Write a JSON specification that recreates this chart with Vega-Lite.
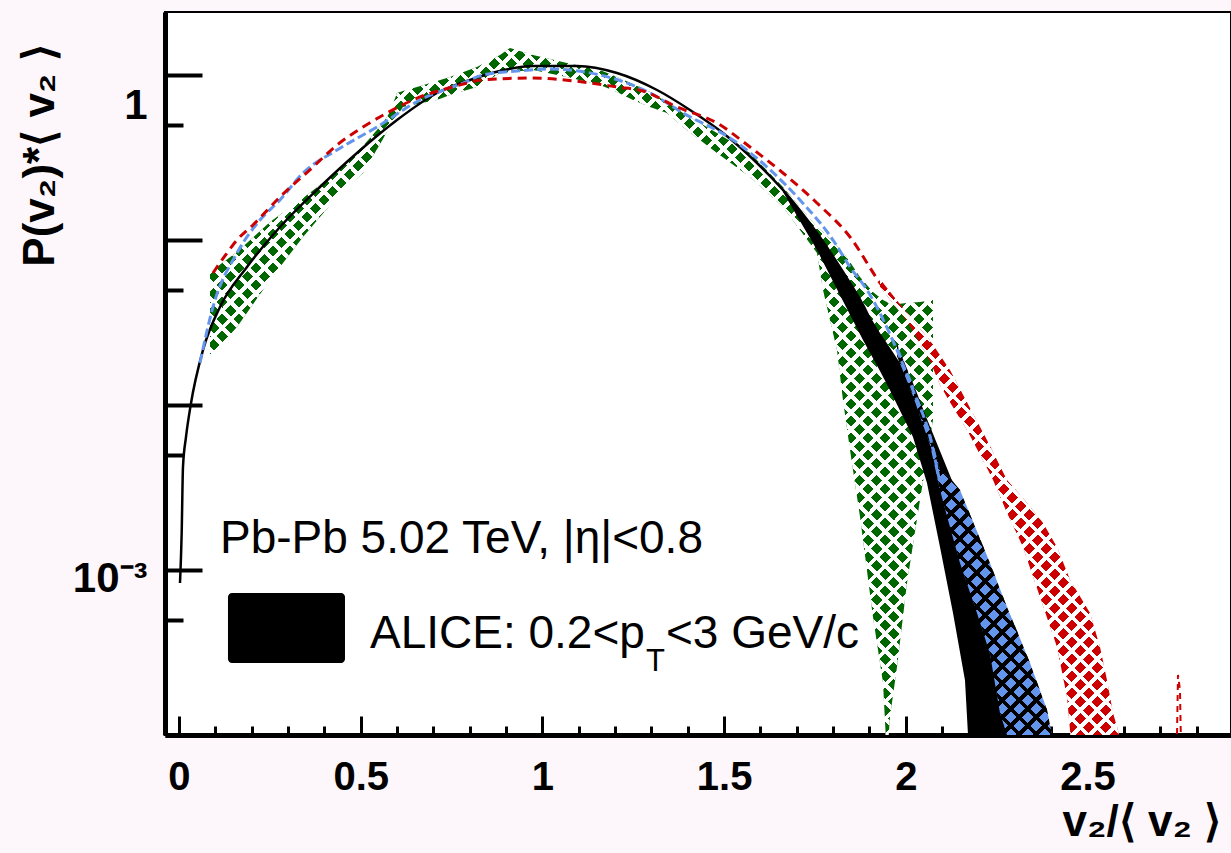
{
  "$schema": "https://vega.github.io/schema/vega-lite/v6.json",
  "width": 1066,
  "height": 723,
  "autosize": {"type": "none"},
  "padding": {"left": 165, "top": 12, "right": 0, "bottom": 118},
  "background": "#fdf7fc",
  "view": {"fill": "white", "stroke": "black", "strokeWidth": 2},
  "config": {
    "font": "Liberation Sans",
    "axis": {"grid": false, "zindex": 1, "labelColor": "black", "domainColor": "black", "tickColor": "black", "titleColor": "black", "labelOverlap": false, "labelFlush": false, "labelBound": false}
  },
  "datasets": {
    "black_line": [
      {"x":0.0028,"y":0.000834},{"x":0.0074,"y":0.00168},{"x":0.011,"y":0.00421},{"x":0.0193,"y":0.0064},{"x":0.0322,"y":0.01},{"x":0.066,"y":0.0215},{"x":0.1128,"y":0.0393},{"x":0.1871,"y":0.0686},{"x":0.2779,"y":0.1199},{"x":0.388,"y":0.2096},{"x":0.4898,"y":0.3367},{"x":0.5999,"y":0.5337},{"x":0.71,"y":0.778},{"x":0.8008,"y":0.933},{"x":0.8833,"y":1.057},{"x":0.9741,"y":1.134},{"x":1.0952,"y":1.134},{"x":1.2053,"y":1.028},{"x":1.3154,"y":0.811},{"x":1.4061,"y":0.614},{"x":1.497,"y":0.4452},{"x":1.5905,"y":0.2929},{"x":1.6621,"y":0.2009},{"x":1.7556,"y":0.1103},{"x":1.8272,"y":0.064},{"x":1.8822,"y":0.0404},{"x":1.9565,"y":0.0175},{"x":2.0198,"y":0.00933}
    ],
    "black_band": [
      {"x":1.6621,"lo":0.1954,"hi":0.2066},{"x":1.7556,"lo":0.087,"hi":0.1118},{"x":1.8272,"lo":0.0427,"hi":0.064},{"x":1.8822,"lo":0.0248,"hi":0.0404},{"x":1.929,"lo":0.0161,"hi":0.0273},{"x":1.9565,"lo":0.0123,"hi":0.0222},{"x":2.0198,"lo":0.0064,"hi":0.0136},{"x":2.0583,"lo":0.00337,"hi":0.00823},{"x":2.0941,"lo":0.001378,"hi":0.00526},{"x":2.1299,"lo":0.000549,"hi":0.00337},{"x":2.1629,"lo":0.000215,"hi":0.00234},{"x":2.1712,"lo":0.0001,"hi":0.00215},{"x":2.1904,"lo":0.0000305,"hi":0.00175},{"x":2.2124,"lo":0.00001,"hi":0.001378},{"x":2.2785,"lo":0.00001,"hi":0.000549},{"x":2.3335,"lo":0.00001,"hi":0.000215},{"x":2.3748,"lo":0.00001,"hi":0.0001},{"x":2.3968,"lo":0.00001,"hi":0.0000614}
    ],
    "green_band": [
      {"x":0.0853,"lo":0.0195,"hi":0.064},{"x":0.1596,"lo":0.0297,"hi":0.0846},{"x":0.2504,"lo":0.0572,"hi":0.1285},{"x":0.3412,"lo":0.1043,"hi":0.1797},{"x":0.4348,"lo":0.1822,"hi":0.2583},{"x":0.5063,"lo":0.2547,"hi":0.3712},{"x":0.5614,"lo":0.4094,"hi":0.5118},{"x":0.5806,"lo":0.4908,"hi":0.597},{"x":0.5999,"lo":0.5644,"hi":0.778},{"x":0.6164,"lo":0.64,"hi":0.7998},{"x":0.6549,"lo":0.6671,"hi":0.846},{"x":0.71,"lo":0.7055,"hi":0.9198},{"x":0.7457,"lo":0.7565,"hi":0.9725},{"x":0.82,"lo":0.846,"hi":1.118},{"x":0.8833,"lo":1.028,"hi":1.322},{"x":0.9108,"lo":1.043,"hi":1.458},{"x":0.9741,"lo":1.072,"hi":1.322},{"x":1.0677,"lo":0.9725,"hi":1.182},{"x":1.1585,"lo":0.8697,"hi":1.072},{"x":1.2053,"lo":0.789,"hi":0.9725},{"x":1.2493,"lo":0.7055,"hi":0.8819},{"x":1.2961,"lo":0.64,"hi":0.789},{"x":1.3429,"lo":0.5886,"hi":0.6863},{"x":1.3869,"lo":0.484,"hi":0.5886},{"x":1.4804,"lo":0.3367,"hi":0.4452},{"x":1.5713,"lo":0.2408,"hi":0.3367},{"x":1.6621,"lo":0.1585,"hi":0.2096},{"x":1.7556,"lo":0.0834,"hi":0.1199},{"x":1.7722,"lo":0.0498,"hi":0.1118},{"x":1.8107,"lo":0.0215,"hi":0.092},{"x":1.8272,"lo":0.0107,"hi":0.0846},{"x":1.8465,"lo":0.00534,"hi":0.0736},{"x":1.874,"lo":0.0021,"hi":0.0597},{"x":1.9097,"lo":0.000519,"hi":0.0484},{"x":1.9373,"lo":0.000207,"hi":0.0433},{"x":1.9483,"lo":0.0000705,"hi":0.0421},{"x":1.9565,"lo":0.000129,"hi":0.0404},{"x":1.9758,"lo":0.000258,"hi":0.0409},{"x":2.0033,"lo":0.000834,"hi":0.0415},{"x":2.0391,"lo":0.00266,"hi":0.0421},{"x":2.0748,"lo":0.00811,"hi":0.0433}
    ],
    "blue_line": [
      {"x":0.0578,"y":0.018},{"x":0.0936,"y":0.0393},{"x":0.1596,"y":0.0834},{"x":0.2229,"y":0.1322},{"x":0.2779,"y":0.1748},{"x":0.3412,"y":0.2547},{"x":0.4348,"y":0.3511},{"x":0.5449,"y":0.484},{"x":0.6632,"y":0.7055},{"x":0.7815,"y":0.894},{"x":0.8365,"y":1.0},{"x":0.9301,"y":1.057},{"x":1.0209,"y":1.087},{"x":1.1585,"y":1.0},{"x":1.2961,"y":0.778},{"x":1.3869,"y":0.5886},{"x":1.5245,"y":0.4037},{"x":1.6181,"y":0.2769},{"x":1.7089,"y":0.1748},{"x":1.7997,"y":0.1},{"x":1.8465,"y":0.0686},{"x":1.8932,"y":0.0498},{"x":1.9758,"y":0.0215},{"x":2.0198,"y":0.0123},{"x":2.0666,"y":0.0064},{"x":2.0941,"y":0.00337}
    ],
    "blue_band": [
      {"x":1.9758,"lo":0.0198,"hi":0.0234},{"x":2.0198,"lo":0.01134,"hi":0.01341},{"x":2.0666,"lo":0.00572,"hi":0.00705},{"x":2.0941,"lo":0.00305,"hi":0.00404},{"x":2.1216,"lo":0.00182,"hi":0.00361},{"x":2.1491,"lo":0.001103,"hi":0.00305},{"x":2.1959,"lo":0.000549,"hi":0.00172},{"x":2.2317,"lo":0.00031,"hi":0.001103},{"x":2.2592,"lo":0.000136,"hi":0.000767},{"x":2.2785,"lo":0.0001,"hi":0.000597},{"x":2.3005,"lo":0.00005,"hi":0.000458},{"x":2.3418,"lo":0.00005,"hi":0.000273},{"x":2.3886,"lo":0.00005,"hi":0.000142},{"x":2.4023,"lo":0.00005,"hi":0.0001},{"x":2.4243,"lo":0.00005,"hi":0.0000534}
    ],
    "red_line": [
      {"x":0.0936,"y":0.0631},{"x":0.1321,"y":0.0834},{"x":0.1596,"y":0.1},{"x":0.2036,"y":0.1233},{"x":0.2779,"y":0.1822},{"x":0.3687,"y":0.2769},{"x":0.4348,"y":0.3765},{"x":0.5063,"y":0.484},{"x":0.5724,"y":0.5886},{"x":0.6632,"y":0.736},{"x":0.754,"y":0.846},{"x":0.8365,"y":0.933},{"x":0.9741,"y":0.959},{"x":1.1117,"y":0.907},{"x":1.2053,"y":0.846},{"x":1.2768,"y":0.7998},{"x":1.3704,"y":0.64},{"x":1.4804,"y":0.5118},{"x":1.5713,"y":0.3662},{"x":1.6621,"y":0.2547},{"x":1.7556,"y":0.1676},{"x":1.8465,"y":0.1043},{"x":1.929,"y":0.0549},{"x":2.0033,"y":0.0341},{"x":2.0666,"y":0.0215},{"x":2.1134,"y":0.0136},{"x":2.1684,"y":0.00846},{"x":2.2234,"y":0.00534},{"x":2.2785,"y":0.00337}
    ],
    "red_band": [
      {"x":1.929,"lo":0.0519,"hi":0.058},{"x":2.0033,"lo":0.0323,"hi":0.0361},{"x":2.0666,"lo":0.0185,"hi":0.0246},{"x":2.0941,"lo":0.0132,"hi":0.0201},{"x":2.1216,"lo":0.0104,"hi":0.0163},{"x":2.1684,"lo":0.00705,"hi":0.0104},{"x":2.2234,"lo":0.00415,"hi":0.00614},{"x":2.24,"lo":0.00351,"hi":0.00519},{"x":2.2785,"lo":0.00222,"hi":0.00351},{"x":2.3225,"lo":0.001378,"hi":0.00273},{"x":2.3335,"lo":0.001166,"hi":0.00255},{"x":2.3693,"lo":0.000686,"hi":0.00204},{"x":2.3776,"lo":0.000605,"hi":0.00193},{"x":2.4161,"lo":0.000341,"hi":0.001378},{"x":2.4436,"lo":0.00017,"hi":0.000973},{"x":2.4519,"lo":0.000107,"hi":0.00087},{"x":2.4656,"lo":0.00005,"hi":0.000778},{"x":2.5069,"lo":0.00005,"hi":0.000549},{"x":2.5344,"lo":0.00005,"hi":0.000341},{"x":2.5537,"lo":0.00005,"hi":0.000215},{"x":2.5702,"lo":0.00005,"hi":0.000136},{"x":2.5839,"lo":0.00005,"hi":0.000107},{"x":2.6032,"lo":0.00005,"hi":0.0000614}
    ],
    "red_spike": [
      {"x":2.7435,"y":0.0000404},{"x":2.749,"y":0.000231},{"x":2.7545,"y":0.000187},{"x":2.76,"y":0.0000404}
    ],
    "legend_box": [
      {"x":0.1348,"x2":0.4568,"y":0.000726,"y2":0.000273}
    ],
    "texts": [
      {"x":0.1128,"y":0.001268,"t":"Pb-Pb 5.02 TeV, |η|<0.8"},
      {"x":0.5256,"y":0.000337,"t":"ALICE: 0.2<p"},
      {"x":1.3401,"y":0.000337,"t":"<3 GeV/c"}
    ],
    "subs": [
      {"x":1.2851,"y":0.000245,"t":"T"}
    ]
  },
  "resolve": {"axis": {"x": "independent", "y": "independent"}},
  "layer": [
    {
      "data": {"name": "green_band"},
      "mark": {"type": "area", "clip": true, "fill": {"gradient": "linear", "x1": 0, "y1": 0, "x2": 1.1937, "y2": 1.1755, "stops": [
        {"offset":0,"color":"#fff"},{"offset":0.0033,"color":"#fff"},{"offset":0.0033,"color":"#060"},{"offset":0.01,"color":"#060"},
        {"offset":0.01,"color":"#fff"},{"offset":0.0133,"color":"#fff"},{"offset":0.0133,"color":"#060"},{"offset":0.02,"color":"#060"},
        {"offset":0.02,"color":"#fff"},{"offset":0.0233,"color":"#fff"},{"offset":0.0233,"color":"#060"},{"offset":0.03,"color":"#060"},
        {"offset":0.03,"color":"#fff"},{"offset":0.0333,"color":"#fff"},{"offset":0.0333,"color":"#060"},{"offset":0.04,"color":"#060"},
        {"offset":0.04,"color":"#fff"},{"offset":0.0433,"color":"#fff"},{"offset":0.0433,"color":"#060"},{"offset":0.05,"color":"#060"},
        {"offset":0.05,"color":"#fff"},{"offset":0.0533,"color":"#fff"},{"offset":0.0533,"color":"#060"},{"offset":0.06,"color":"#060"},
        {"offset":0.06,"color":"#fff"},{"offset":0.0633,"color":"#fff"},{"offset":0.0633,"color":"#060"},{"offset":0.07,"color":"#060"},
        {"offset":0.07,"color":"#fff"},{"offset":0.0733,"color":"#fff"},{"offset":0.0733,"color":"#060"},{"offset":0.08,"color":"#060"},
        {"offset":0.08,"color":"#fff"},{"offset":0.0833,"color":"#fff"},{"offset":0.0833,"color":"#060"},{"offset":0.09,"color":"#060"},
        {"offset":0.09,"color":"#fff"},{"offset":0.0933,"color":"#fff"},{"offset":0.0933,"color":"#060"},{"offset":0.1,"color":"#060"},
        {"offset":0.1,"color":"#fff"},{"offset":0.1033,"color":"#fff"},{"offset":0.1033,"color":"#060"},{"offset":0.11,"color":"#060"},
        {"offset":0.11,"color":"#fff"},{"offset":0.1133,"color":"#fff"},{"offset":0.1133,"color":"#060"},{"offset":0.12,"color":"#060"},
        {"offset":0.12,"color":"#fff"},{"offset":0.1233,"color":"#fff"},{"offset":0.1233,"color":"#060"},{"offset":0.13,"color":"#060"},
        {"offset":0.13,"color":"#fff"},{"offset":0.1333,"color":"#fff"},{"offset":0.1333,"color":"#060"},{"offset":0.14,"color":"#060"},
        {"offset":0.14,"color":"#fff"},{"offset":0.1433,"color":"#fff"},{"offset":0.1433,"color":"#060"},{"offset":0.15,"color":"#060"},
        {"offset":0.15,"color":"#fff"},{"offset":0.1533,"color":"#fff"},{"offset":0.1533,"color":"#060"},{"offset":0.16,"color":"#060"},
        {"offset":0.16,"color":"#fff"},{"offset":0.1633,"color":"#fff"},{"offset":0.1633,"color":"#060"},{"offset":0.17,"color":"#060"},
        {"offset":0.17,"color":"#fff"},{"offset":0.1733,"color":"#fff"},{"offset":0.1733,"color":"#060"},{"offset":0.18,"color":"#060"},
        {"offset":0.18,"color":"#fff"},{"offset":0.1833,"color":"#fff"},{"offset":0.1833,"color":"#060"},{"offset":0.19,"color":"#060"},
        {"offset":0.19,"color":"#fff"},{"offset":0.1933,"color":"#fff"},{"offset":0.1933,"color":"#060"},{"offset":0.2,"color":"#060"},
        {"offset":0.2,"color":"#fff"},{"offset":0.2033,"color":"#fff"},{"offset":0.2033,"color":"#060"},{"offset":0.21,"color":"#060"},
        {"offset":0.21,"color":"#fff"},{"offset":0.2133,"color":"#fff"},{"offset":0.2133,"color":"#060"},{"offset":0.22,"color":"#060"},
        {"offset":0.22,"color":"#fff"},{"offset":0.2233,"color":"#fff"},{"offset":0.2233,"color":"#060"},{"offset":0.23,"color":"#060"},
        {"offset":0.23,"color":"#fff"},{"offset":0.2333,"color":"#fff"},{"offset":0.2333,"color":"#060"},{"offset":0.24,"color":"#060"},
        {"offset":0.24,"color":"#fff"},{"offset":0.2433,"color":"#fff"},{"offset":0.2433,"color":"#060"},{"offset":0.25,"color":"#060"},
        {"offset":0.25,"color":"#fff"},{"offset":0.2533,"color":"#fff"},{"offset":0.2533,"color":"#060"},{"offset":0.26,"color":"#060"},
        {"offset":0.26,"color":"#fff"},{"offset":0.2633,"color":"#fff"},{"offset":0.2633,"color":"#060"},{"offset":0.27,"color":"#060"},
        {"offset":0.27,"color":"#fff"},{"offset":0.2733,"color":"#fff"},{"offset":0.2733,"color":"#060"},{"offset":0.28,"color":"#060"},
        {"offset":0.28,"color":"#fff"},{"offset":0.2833,"color":"#fff"},{"offset":0.2833,"color":"#060"},{"offset":0.29,"color":"#060"},
        {"offset":0.29,"color":"#fff"},{"offset":0.2933,"color":"#fff"},{"offset":0.2933,"color":"#060"},{"offset":0.3,"color":"#060"},
        {"offset":0.3,"color":"#fff"},{"offset":0.3033,"color":"#fff"},{"offset":0.3033,"color":"#060"},{"offset":0.31,"color":"#060"},
        {"offset":0.31,"color":"#fff"},{"offset":0.3133,"color":"#fff"},{"offset":0.3133,"color":"#060"},{"offset":0.32,"color":"#060"},
        {"offset":0.32,"color":"#fff"},{"offset":0.3233,"color":"#fff"},{"offset":0.3233,"color":"#060"},{"offset":0.33,"color":"#060"},
        {"offset":0.33,"color":"#fff"},{"offset":0.3333,"color":"#fff"},{"offset":0.3333,"color":"#060"},{"offset":0.34,"color":"#060"},
        {"offset":0.34,"color":"#fff"},{"offset":0.3433,"color":"#fff"},{"offset":0.3433,"color":"#060"},{"offset":0.35,"color":"#060"},
        {"offset":0.35,"color":"#fff"},{"offset":0.3533,"color":"#fff"},{"offset":0.3533,"color":"#060"},{"offset":0.36,"color":"#060"},
        {"offset":0.36,"color":"#fff"},{"offset":0.3633,"color":"#fff"},{"offset":0.3633,"color":"#060"},{"offset":0.37,"color":"#060"},
        {"offset":0.37,"color":"#fff"},{"offset":0.3733,"color":"#fff"},{"offset":0.3733,"color":"#060"},{"offset":0.38,"color":"#060"},
        {"offset":0.38,"color":"#fff"},{"offset":0.3833,"color":"#fff"},{"offset":0.3833,"color":"#060"},{"offset":0.39,"color":"#060"},
        {"offset":0.39,"color":"#fff"},{"offset":0.3933,"color":"#fff"},{"offset":0.3933,"color":"#060"},{"offset":0.4,"color":"#060"},
        {"offset":0.4,"color":"#fff"},{"offset":0.4033,"color":"#fff"},{"offset":0.4033,"color":"#060"},{"offset":0.41,"color":"#060"},
        {"offset":0.41,"color":"#fff"},{"offset":0.4133,"color":"#fff"},{"offset":0.4133,"color":"#060"},{"offset":0.42,"color":"#060"},
        {"offset":0.42,"color":"#fff"},{"offset":0.4233,"color":"#fff"},{"offset":0.4233,"color":"#060"},{"offset":0.43,"color":"#060"},
        {"offset":0.43,"color":"#fff"},{"offset":0.4333,"color":"#fff"},{"offset":0.4333,"color":"#060"},{"offset":0.44,"color":"#060"},
        {"offset":0.44,"color":"#fff"},{"offset":0.4433,"color":"#fff"},{"offset":0.4433,"color":"#060"},{"offset":0.45,"color":"#060"},
        {"offset":0.45,"color":"#fff"},{"offset":0.4533,"color":"#fff"},{"offset":0.4533,"color":"#060"},{"offset":0.46,"color":"#060"},
        {"offset":0.46,"color":"#fff"},{"offset":0.4633,"color":"#fff"},{"offset":0.4633,"color":"#060"},{"offset":0.47,"color":"#060"},
        {"offset":0.47,"color":"#fff"},{"offset":0.4733,"color":"#fff"},{"offset":0.4733,"color":"#060"},{"offset":0.48,"color":"#060"},
        {"offset":0.48,"color":"#fff"},{"offset":0.4833,"color":"#fff"},{"offset":0.4833,"color":"#060"},{"offset":0.49,"color":"#060"},
        {"offset":0.49,"color":"#fff"},{"offset":0.4933,"color":"#fff"},{"offset":0.4933,"color":"#060"},{"offset":0.5,"color":"#060"},
        {"offset":0.5,"color":"#fff"},{"offset":0.5033,"color":"#fff"},{"offset":0.5033,"color":"#060"},{"offset":0.51,"color":"#060"},
        {"offset":0.51,"color":"#fff"},{"offset":0.5133,"color":"#fff"},{"offset":0.5133,"color":"#060"},{"offset":0.52,"color":"#060"},
        {"offset":0.52,"color":"#fff"},{"offset":0.5233,"color":"#fff"},{"offset":0.5233,"color":"#060"},{"offset":0.53,"color":"#060"},
        {"offset":0.53,"color":"#fff"},{"offset":0.5333,"color":"#fff"},{"offset":0.5333,"color":"#060"},{"offset":0.54,"color":"#060"},
        {"offset":0.54,"color":"#fff"},{"offset":0.5433,"color":"#fff"},{"offset":0.5433,"color":"#060"},{"offset":0.55,"color":"#060"},
        {"offset":0.55,"color":"#fff"},{"offset":0.5533,"color":"#fff"},{"offset":0.5533,"color":"#060"},{"offset":0.56,"color":"#060"},
        {"offset":0.56,"color":"#fff"},{"offset":0.5633,"color":"#fff"},{"offset":0.5633,"color":"#060"},{"offset":0.57,"color":"#060"},
        {"offset":0.57,"color":"#fff"},{"offset":0.5733,"color":"#fff"},{"offset":0.5733,"color":"#060"},{"offset":0.58,"color":"#060"},
        {"offset":0.58,"color":"#fff"},{"offset":0.5833,"color":"#fff"},{"offset":0.5833,"color":"#060"},{"offset":0.59,"color":"#060"},
        {"offset":0.59,"color":"#fff"},{"offset":0.5933,"color":"#fff"},{"offset":0.5933,"color":"#060"},{"offset":0.6,"color":"#060"},
        {"offset":0.6,"color":"#fff"},{"offset":0.6033,"color":"#fff"},{"offset":0.6033,"color":"#060"},{"offset":0.61,"color":"#060"},
        {"offset":0.61,"color":"#fff"},{"offset":0.6133,"color":"#fff"},{"offset":0.6133,"color":"#060"},{"offset":0.62,"color":"#060"},
        {"offset":0.62,"color":"#fff"},{"offset":0.6233,"color":"#fff"},{"offset":0.6233,"color":"#060"},{"offset":0.63,"color":"#060"},
        {"offset":0.63,"color":"#fff"},{"offset":0.6333,"color":"#fff"},{"offset":0.6333,"color":"#060"},{"offset":0.64,"color":"#060"},
        {"offset":0.64,"color":"#fff"},{"offset":0.6433,"color":"#fff"},{"offset":0.6433,"color":"#060"},{"offset":0.65,"color":"#060"},
        {"offset":0.65,"color":"#fff"},{"offset":0.6533,"color":"#fff"},{"offset":0.6533,"color":"#060"},{"offset":0.66,"color":"#060"},
        {"offset":0.66,"color":"#fff"},{"offset":0.6633,"color":"#fff"},{"offset":0.6633,"color":"#060"},{"offset":0.67,"color":"#060"},
        {"offset":0.67,"color":"#fff"},{"offset":0.6733,"color":"#fff"},{"offset":0.6733,"color":"#060"},{"offset":0.68,"color":"#060"},
        {"offset":0.68,"color":"#fff"},{"offset":0.6833,"color":"#fff"},{"offset":0.6833,"color":"#060"},{"offset":0.69,"color":"#060"},
        {"offset":0.69,"color":"#fff"},{"offset":0.6933,"color":"#fff"},{"offset":0.6933,"color":"#060"},{"offset":0.7,"color":"#060"},
        {"offset":0.7,"color":"#fff"},{"offset":0.7033,"color":"#fff"},{"offset":0.7033,"color":"#060"},{"offset":0.71,"color":"#060"},
        {"offset":0.71,"color":"#fff"},{"offset":0.7133,"color":"#fff"},{"offset":0.7133,"color":"#060"},{"offset":0.72,"color":"#060"},
        {"offset":0.72,"color":"#fff"},{"offset":0.7233,"color":"#fff"},{"offset":0.7233,"color":"#060"},{"offset":0.73,"color":"#060"},
        {"offset":0.73,"color":"#fff"},{"offset":0.7333,"color":"#fff"},{"offset":0.7333,"color":"#060"},{"offset":0.74,"color":"#060"},
        {"offset":0.74,"color":"#fff"},{"offset":0.7433,"color":"#fff"},{"offset":0.7433,"color":"#060"},{"offset":0.75,"color":"#060"},
        {"offset":0.75,"color":"#fff"},{"offset":0.7533,"color":"#fff"},{"offset":0.7533,"color":"#060"},{"offset":0.76,"color":"#060"},
        {"offset":0.76,"color":"#fff"},{"offset":0.7633,"color":"#fff"},{"offset":0.7633,"color":"#060"},{"offset":0.77,"color":"#060"},
        {"offset":0.77,"color":"#fff"},{"offset":0.7733,"color":"#fff"},{"offset":0.7733,"color":"#060"},{"offset":0.78,"color":"#060"},
        {"offset":0.78,"color":"#fff"},{"offset":0.7833,"color":"#fff"},{"offset":0.7833,"color":"#060"},{"offset":0.79,"color":"#060"},
        {"offset":0.79,"color":"#fff"},{"offset":0.7933,"color":"#fff"},{"offset":0.7933,"color":"#060"},{"offset":0.8,"color":"#060"},
        {"offset":0.8,"color":"#fff"},{"offset":0.8033,"color":"#fff"},{"offset":0.8033,"color":"#060"},{"offset":0.81,"color":"#060"},
        {"offset":0.81,"color":"#fff"},{"offset":0.8133,"color":"#fff"},{"offset":0.8133,"color":"#060"},{"offset":0.82,"color":"#060"},
        {"offset":0.82,"color":"#fff"},{"offset":0.8233,"color":"#fff"},{"offset":0.8233,"color":"#060"},{"offset":0.83,"color":"#060"},
        {"offset":0.83,"color":"#fff"},{"offset":0.8333,"color":"#fff"},{"offset":0.8333,"color":"#060"},{"offset":0.84,"color":"#060"},
        {"offset":0.84,"color":"#fff"},{"offset":0.8433,"color":"#fff"},{"offset":0.8433,"color":"#060"},{"offset":0.85,"color":"#060"},
        {"offset":0.85,"color":"#fff"},{"offset":0.8533,"color":"#fff"},{"offset":0.8533,"color":"#060"},{"offset":1,"color":"#060"}
      ]}},
      "encoding": {
        "x": {"field": "x", "type": "quantitative", "scale": {"domain": [-0.0385, 2.8949], "nice": false, "zero": false},
          "axis": {"orient": "bottom", "values": [0, 0.5, 1, 1.5, 2, 2.5], "format": "~g", "tickSize": -19, "tickWidth": 3, "domainWidth": 5,
            "labelFontSize": 40, "labelFontWeight": "bold", "labelPadding": 41, "labelBaseline": "top",
            "title": "v₂/⟨ v₂ ⟩", "titleFontSize": 44, "titleFontWeight": "bold", "titleAlign": "left", "titleBaseline": "alphabetic", "titleX": 897, "titleY": 100, "titleAnchor": null}},
        "y": {"field": "lo", "type": "quantitative", "scale": {"type": "log", "domain": [0.0001, 2.409], "nice": false},
          "axis": {"orient": "left", "values": [0.0001, 0.001, 0.01, 0.1, 1], "tickSize": -37, "tickWidth": 4, "domainWidth": 5,
            "labelExpr": "datum.value > 0.5 ? '1' : ''", "labelFontSize": 42, "labelFontWeight": "bold", "labelPadding": 55, "labelOffset": 30, "labelBaseline": "middle", "labelAlign": "right",
            "title": "P(v₂)*⟨ v₂ ⟩", "titleFontSize": 44, "titleFontWeight": "bold", "titleAngle": -90, "titleAlign": "center", "titleBaseline": "alphabetic", "titleX": -112, "titleY": 143, "titleAnchor": null}},
        "y2": {"field": "hi"}
      }
    },
    {
      "data": {"name": "green_band"},
      "mark": {"type": "area", "clip": true, "fill": {"gradient": "linear", "x1": 0, "y1": 1, "x2": 1.1937, "y2": -0.1755, "stops": [
        {"offset":0,"color":"#fff"},{"offset":0.0033,"color":"#fff"},{"offset":0.0033,"color":"transparent"},{"offset":0.01,"color":"transparent"},
        {"offset":0.01,"color":"#fff"},{"offset":0.0133,"color":"#fff"},{"offset":0.0133,"color":"transparent"},{"offset":0.02,"color":"transparent"},
        {"offset":0.02,"color":"#fff"},{"offset":0.0233,"color":"#fff"},{"offset":0.0233,"color":"transparent"},{"offset":0.03,"color":"transparent"},
        {"offset":0.03,"color":"#fff"},{"offset":0.0333,"color":"#fff"},{"offset":0.0333,"color":"transparent"},{"offset":0.04,"color":"transparent"},
        {"offset":0.04,"color":"#fff"},{"offset":0.0433,"color":"#fff"},{"offset":0.0433,"color":"transparent"},{"offset":0.05,"color":"transparent"},
        {"offset":0.05,"color":"#fff"},{"offset":0.0533,"color":"#fff"},{"offset":0.0533,"color":"transparent"},{"offset":0.06,"color":"transparent"},
        {"offset":0.06,"color":"#fff"},{"offset":0.0633,"color":"#fff"},{"offset":0.0633,"color":"transparent"},{"offset":0.07,"color":"transparent"},
        {"offset":0.07,"color":"#fff"},{"offset":0.0733,"color":"#fff"},{"offset":0.0733,"color":"transparent"},{"offset":0.08,"color":"transparent"},
        {"offset":0.08,"color":"#fff"},{"offset":0.0833,"color":"#fff"},{"offset":0.0833,"color":"transparent"},{"offset":0.09,"color":"transparent"},
        {"offset":0.09,"color":"#fff"},{"offset":0.0933,"color":"#fff"},{"offset":0.0933,"color":"transparent"},{"offset":0.1,"color":"transparent"},
        {"offset":0.1,"color":"#fff"},{"offset":0.1033,"color":"#fff"},{"offset":0.1033,"color":"transparent"},{"offset":0.11,"color":"transparent"},
        {"offset":0.11,"color":"#fff"},{"offset":0.1133,"color":"#fff"},{"offset":0.1133,"color":"transparent"},{"offset":0.12,"color":"transparent"},
        {"offset":0.12,"color":"#fff"},{"offset":0.1233,"color":"#fff"},{"offset":0.1233,"color":"transparent"},{"offset":0.13,"color":"transparent"},
        {"offset":0.13,"color":"#fff"},{"offset":0.1333,"color":"#fff"},{"offset":0.1333,"color":"transparent"},{"offset":0.14,"color":"transparent"},
        {"offset":0.14,"color":"#fff"},{"offset":0.1433,"color":"#fff"},{"offset":0.1433,"color":"transparent"},{"offset":0.15,"color":"transparent"},
        {"offset":0.15,"color":"#fff"},{"offset":0.1533,"color":"#fff"},{"offset":0.1533,"color":"transparent"},{"offset":0.16,"color":"transparent"},
        {"offset":0.16,"color":"#fff"},{"offset":0.1633,"color":"#fff"},{"offset":0.1633,"color":"transparent"},{"offset":0.17,"color":"transparent"},
        {"offset":0.17,"color":"#fff"},{"offset":0.1733,"color":"#fff"},{"offset":0.1733,"color":"transparent"},{"offset":0.18,"color":"transparent"},
        {"offset":0.18,"color":"#fff"},{"offset":0.1833,"color":"#fff"},{"offset":0.1833,"color":"transparent"},{"offset":0.19,"color":"transparent"},
        {"offset":0.19,"color":"#fff"},{"offset":0.1933,"color":"#fff"},{"offset":0.1933,"color":"transparent"},{"offset":0.2,"color":"transparent"},
        {"offset":0.2,"color":"#fff"},{"offset":0.2033,"color":"#fff"},{"offset":0.2033,"color":"transparent"},{"offset":0.21,"color":"transparent"},
        {"offset":0.21,"color":"#fff"},{"offset":0.2133,"color":"#fff"},{"offset":0.2133,"color":"transparent"},{"offset":0.22,"color":"transparent"},
        {"offset":0.22,"color":"#fff"},{"offset":0.2233,"color":"#fff"},{"offset":0.2233,"color":"transparent"},{"offset":0.23,"color":"transparent"},
        {"offset":0.23,"color":"#fff"},{"offset":0.2333,"color":"#fff"},{"offset":0.2333,"color":"transparent"},{"offset":0.24,"color":"transparent"},
        {"offset":0.24,"color":"#fff"},{"offset":0.2433,"color":"#fff"},{"offset":0.2433,"color":"transparent"},{"offset":0.25,"color":"transparent"},
        {"offset":0.25,"color":"#fff"},{"offset":0.2533,"color":"#fff"},{"offset":0.2533,"color":"transparent"},{"offset":0.26,"color":"transparent"},
        {"offset":0.26,"color":"#fff"},{"offset":0.2633,"color":"#fff"},{"offset":0.2633,"color":"transparent"},{"offset":0.27,"color":"transparent"},
        {"offset":0.27,"color":"#fff"},{"offset":0.2733,"color":"#fff"},{"offset":0.2733,"color":"transparent"},{"offset":0.28,"color":"transparent"},
        {"offset":0.28,"color":"#fff"},{"offset":0.2833,"color":"#fff"},{"offset":0.2833,"color":"transparent"},{"offset":0.29,"color":"transparent"},
        {"offset":0.29,"color":"#fff"},{"offset":0.2933,"color":"#fff"},{"offset":0.2933,"color":"transparent"},{"offset":0.3,"color":"transparent"},
        {"offset":0.3,"color":"#fff"},{"offset":0.3033,"color":"#fff"},{"offset":0.3033,"color":"transparent"},{"offset":0.31,"color":"transparent"},
        {"offset":0.31,"color":"#fff"},{"offset":0.3133,"color":"#fff"},{"offset":0.3133,"color":"transparent"},{"offset":0.32,"color":"transparent"},
        {"offset":0.32,"color":"#fff"},{"offset":0.3233,"color":"#fff"},{"offset":0.3233,"color":"transparent"},{"offset":0.33,"color":"transparent"},
        {"offset":0.33,"color":"#fff"},{"offset":0.3333,"color":"#fff"},{"offset":0.3333,"color":"transparent"},{"offset":0.34,"color":"transparent"},
        {"offset":0.34,"color":"#fff"},{"offset":0.3433,"color":"#fff"},{"offset":0.3433,"color":"transparent"},{"offset":0.35,"color":"transparent"},
        {"offset":0.35,"color":"#fff"},{"offset":0.3533,"color":"#fff"},{"offset":0.3533,"color":"transparent"},{"offset":0.36,"color":"transparent"},
        {"offset":0.36,"color":"#fff"},{"offset":0.3633,"color":"#fff"},{"offset":0.3633,"color":"transparent"},{"offset":0.37,"color":"transparent"},
        {"offset":0.37,"color":"#fff"},{"offset":0.3733,"color":"#fff"},{"offset":0.3733,"color":"transparent"},{"offset":0.38,"color":"transparent"},
        {"offset":0.38,"color":"#fff"},{"offset":0.3833,"color":"#fff"},{"offset":0.3833,"color":"transparent"},{"offset":0.39,"color":"transparent"},
        {"offset":0.39,"color":"#fff"},{"offset":0.3933,"color":"#fff"},{"offset":0.3933,"color":"transparent"},{"offset":0.4,"color":"transparent"},
        {"offset":0.4,"color":"#fff"},{"offset":0.4033,"color":"#fff"},{"offset":0.4033,"color":"transparent"},{"offset":0.41,"color":"transparent"},
        {"offset":0.41,"color":"#fff"},{"offset":0.4133,"color":"#fff"},{"offset":0.4133,"color":"transparent"},{"offset":0.42,"color":"transparent"},
        {"offset":0.42,"color":"#fff"},{"offset":0.4233,"color":"#fff"},{"offset":0.4233,"color":"transparent"},{"offset":0.43,"color":"transparent"},
        {"offset":0.43,"color":"#fff"},{"offset":0.4333,"color":"#fff"},{"offset":0.4333,"color":"transparent"},{"offset":0.44,"color":"transparent"},
        {"offset":0.44,"color":"#fff"},{"offset":0.4433,"color":"#fff"},{"offset":0.4433,"color":"transparent"},{"offset":0.45,"color":"transparent"},
        {"offset":0.45,"color":"#fff"},{"offset":0.4533,"color":"#fff"},{"offset":0.4533,"color":"transparent"},{"offset":0.46,"color":"transparent"},
        {"offset":0.46,"color":"#fff"},{"offset":0.4633,"color":"#fff"},{"offset":0.4633,"color":"transparent"},{"offset":0.47,"color":"transparent"},
        {"offset":0.47,"color":"#fff"},{"offset":0.4733,"color":"#fff"},{"offset":0.4733,"color":"transparent"},{"offset":0.48,"color":"transparent"},
        {"offset":0.48,"color":"#fff"},{"offset":0.4833,"color":"#fff"},{"offset":0.4833,"color":"transparent"},{"offset":0.49,"color":"transparent"},
        {"offset":0.49,"color":"#fff"},{"offset":0.4933,"color":"#fff"},{"offset":0.4933,"color":"transparent"},{"offset":0.5,"color":"transparent"},
        {"offset":0.5,"color":"#fff"},{"offset":0.5033,"color":"#fff"},{"offset":0.5033,"color":"transparent"},{"offset":0.51,"color":"transparent"},
        {"offset":0.51,"color":"#fff"},{"offset":0.5133,"color":"#fff"},{"offset":0.5133,"color":"transparent"},{"offset":0.52,"color":"transparent"},
        {"offset":0.52,"color":"#fff"},{"offset":0.5233,"color":"#fff"},{"offset":0.5233,"color":"transparent"},{"offset":0.53,"color":"transparent"},
        {"offset":0.53,"color":"#fff"},{"offset":0.5333,"color":"#fff"},{"offset":0.5333,"color":"transparent"},{"offset":0.54,"color":"transparent"},
        {"offset":0.54,"color":"#fff"},{"offset":0.5433,"color":"#fff"},{"offset":0.5433,"color":"transparent"},{"offset":0.55,"color":"transparent"},
        {"offset":0.55,"color":"#fff"},{"offset":0.5533,"color":"#fff"},{"offset":0.5533,"color":"transparent"},{"offset":0.56,"color":"transparent"},
        {"offset":0.56,"color":"#fff"},{"offset":0.5633,"color":"#fff"},{"offset":0.5633,"color":"transparent"},{"offset":0.57,"color":"transparent"},
        {"offset":0.57,"color":"#fff"},{"offset":0.5733,"color":"#fff"},{"offset":0.5733,"color":"transparent"},{"offset":0.58,"color":"transparent"},
        {"offset":0.58,"color":"#fff"},{"offset":0.5833,"color":"#fff"},{"offset":0.5833,"color":"transparent"},{"offset":0.59,"color":"transparent"},
        {"offset":0.59,"color":"#fff"},{"offset":0.5933,"color":"#fff"},{"offset":0.5933,"color":"transparent"},{"offset":0.6,"color":"transparent"},
        {"offset":0.6,"color":"#fff"},{"offset":0.6033,"color":"#fff"},{"offset":0.6033,"color":"transparent"},{"offset":0.61,"color":"transparent"},
        {"offset":0.61,"color":"#fff"},{"offset":0.6133,"color":"#fff"},{"offset":0.6133,"color":"transparent"},{"offset":0.62,"color":"transparent"},
        {"offset":0.62,"color":"#fff"},{"offset":0.6233,"color":"#fff"},{"offset":0.6233,"color":"transparent"},{"offset":0.63,"color":"transparent"},
        {"offset":0.63,"color":"#fff"},{"offset":0.6333,"color":"#fff"},{"offset":0.6333,"color":"transparent"},{"offset":0.64,"color":"transparent"},
        {"offset":0.64,"color":"#fff"},{"offset":0.6433,"color":"#fff"},{"offset":0.6433,"color":"transparent"},{"offset":0.65,"color":"transparent"},
        {"offset":0.65,"color":"#fff"},{"offset":0.6533,"color":"#fff"},{"offset":0.6533,"color":"transparent"},{"offset":0.66,"color":"transparent"},
        {"offset":0.66,"color":"#fff"},{"offset":0.6633,"color":"#fff"},{"offset":0.6633,"color":"transparent"},{"offset":0.67,"color":"transparent"},
        {"offset":0.67,"color":"#fff"},{"offset":0.6733,"color":"#fff"},{"offset":0.6733,"color":"transparent"},{"offset":0.68,"color":"transparent"},
        {"offset":0.68,"color":"#fff"},{"offset":0.6833,"color":"#fff"},{"offset":0.6833,"color":"transparent"},{"offset":0.69,"color":"transparent"},
        {"offset":0.69,"color":"#fff"},{"offset":0.6933,"color":"#fff"},{"offset":0.6933,"color":"transparent"},{"offset":0.7,"color":"transparent"},
        {"offset":0.7,"color":"#fff"},{"offset":0.7033,"color":"#fff"},{"offset":0.7033,"color":"transparent"},{"offset":0.71,"color":"transparent"},
        {"offset":0.71,"color":"#fff"},{"offset":0.7133,"color":"#fff"},{"offset":0.7133,"color":"transparent"},{"offset":0.72,"color":"transparent"},
        {"offset":0.72,"color":"#fff"},{"offset":0.7233,"color":"#fff"},{"offset":0.7233,"color":"transparent"},{"offset":0.73,"color":"transparent"},
        {"offset":0.73,"color":"#fff"},{"offset":0.7333,"color":"#fff"},{"offset":0.7333,"color":"transparent"},{"offset":0.74,"color":"transparent"},
        {"offset":0.74,"color":"#fff"},{"offset":0.7433,"color":"#fff"},{"offset":0.7433,"color":"transparent"},{"offset":0.75,"color":"transparent"},
        {"offset":0.75,"color":"#fff"},{"offset":0.7533,"color":"#fff"},{"offset":0.7533,"color":"transparent"},{"offset":0.76,"color":"transparent"},
        {"offset":0.76,"color":"#fff"},{"offset":0.7633,"color":"#fff"},{"offset":0.7633,"color":"transparent"},{"offset":0.77,"color":"transparent"},
        {"offset":0.77,"color":"#fff"},{"offset":0.7733,"color":"#fff"},{"offset":0.7733,"color":"transparent"},{"offset":0.78,"color":"transparent"},
        {"offset":0.78,"color":"#fff"},{"offset":0.7833,"color":"#fff"},{"offset":0.7833,"color":"transparent"},{"offset":0.79,"color":"transparent"},
        {"offset":0.79,"color":"#fff"},{"offset":0.7933,"color":"#fff"},{"offset":0.7933,"color":"transparent"},{"offset":0.8,"color":"transparent"},
        {"offset":0.8,"color":"#fff"},{"offset":0.8033,"color":"#fff"},{"offset":0.8033,"color":"transparent"},{"offset":0.81,"color":"transparent"},
        {"offset":0.81,"color":"#fff"},{"offset":0.8133,"color":"#fff"},{"offset":0.8133,"color":"transparent"},{"offset":0.82,"color":"transparent"},
        {"offset":0.82,"color":"#fff"},{"offset":0.8233,"color":"#fff"},{"offset":0.8233,"color":"transparent"},{"offset":0.83,"color":"transparent"},
        {"offset":0.83,"color":"#fff"},{"offset":0.8333,"color":"#fff"},{"offset":0.8333,"color":"transparent"},{"offset":0.84,"color":"transparent"},
        {"offset":0.84,"color":"#fff"},{"offset":0.8433,"color":"#fff"},{"offset":0.8433,"color":"transparent"},{"offset":0.85,"color":"transparent"},
        {"offset":0.85,"color":"#fff"},{"offset":0.8533,"color":"#fff"},{"offset":0.8533,"color":"transparent"},{"offset":1,"color":"transparent"}
      ]}},
      "encoding": {
        "x": {"field": "x", "type": "quantitative", "scale": {"domain": [-0.0385, 2.8949], "nice": false, "zero": false}, "axis": null},
        "y": {"field": "lo", "type": "quantitative", "scale": {"type": "log", "domain": [0.0001, 2.409], "nice": false}, "axis": null},
        "y2": {"field": "hi"}
      }
    },
    {
      "data": {"name": "black_band"},
      "mark": {"type": "area", "color": "black", "clip": true},
      "encoding": {
        "x": {"field": "x", "type": "quantitative", "scale": {"domain": [-0.0385, 2.8949], "nice": false, "zero": false}, "axis": null},
        "y": {"field": "lo", "type": "quantitative", "scale": {"type": "log", "domain": [0.0001, 2.409], "nice": false},
          "axis": {"orient": "left", "values": [0.001], "ticks": false, "tickSize": 0, "domain": false, "labelExpr": "'10⁻³'", "labelFontSize": 42, "labelFontWeight": "bold", "labelPadding": 18, "labelOffset": 8, "labelBaseline": "middle", "labelAlign": "right", "title": null}},
        "y2": {"field": "hi"}
      }
    },
    {
      "data": {"name": "blue_band"},
      "mark": {"type": "area", "clip": true, "fill": {"gradient": "linear", "x1": 0, "y1": 0, "x2": 0.6268, "y2": 1.6958, "stops": [
        {"offset":0,"color":"#000"},{"offset":0.0066,"color":"#000"},{"offset":0.0066,"color":"#6495ED"},{"offset":0.02,"color":"#6495ED"},
        {"offset":0.02,"color":"#000"},{"offset":0.0266,"color":"#000"},{"offset":0.0266,"color":"#6495ED"},{"offset":0.04,"color":"#6495ED"},
        {"offset":0.04,"color":"#000"},{"offset":0.0466,"color":"#000"},{"offset":0.0466,"color":"#6495ED"},{"offset":0.06,"color":"#6495ED"},
        {"offset":0.06,"color":"#000"},{"offset":0.0666,"color":"#000"},{"offset":0.0666,"color":"#6495ED"},{"offset":0.08,"color":"#6495ED"},
        {"offset":0.08,"color":"#000"},{"offset":0.0866,"color":"#000"},{"offset":0.0866,"color":"#6495ED"},{"offset":0.1,"color":"#6495ED"},
        {"offset":0.1,"color":"#000"},{"offset":0.1066,"color":"#000"},{"offset":0.1066,"color":"#6495ED"},{"offset":0.12,"color":"#6495ED"},
        {"offset":0.12,"color":"#000"},{"offset":0.1266,"color":"#000"},{"offset":0.1266,"color":"#6495ED"},{"offset":0.14,"color":"#6495ED"},
        {"offset":0.14,"color":"#000"},{"offset":0.1466,"color":"#000"},{"offset":0.1466,"color":"#6495ED"},{"offset":0.16,"color":"#6495ED"},
        {"offset":0.16,"color":"#000"},{"offset":0.1666,"color":"#000"},{"offset":0.1666,"color":"#6495ED"},{"offset":0.18,"color":"#6495ED"},
        {"offset":0.18,"color":"#000"},{"offset":0.1866,"color":"#000"},{"offset":0.1866,"color":"#6495ED"},{"offset":0.2,"color":"#6495ED"},
        {"offset":0.2,"color":"#000"},{"offset":0.2066,"color":"#000"},{"offset":0.2066,"color":"#6495ED"},{"offset":0.22,"color":"#6495ED"},
        {"offset":0.22,"color":"#000"},{"offset":0.2266,"color":"#000"},{"offset":0.2266,"color":"#6495ED"},{"offset":0.24,"color":"#6495ED"},
        {"offset":0.24,"color":"#000"},{"offset":0.2466,"color":"#000"},{"offset":0.2466,"color":"#6495ED"},{"offset":0.26,"color":"#6495ED"},
        {"offset":0.26,"color":"#000"},{"offset":0.2666,"color":"#000"},{"offset":0.2666,"color":"#6495ED"},{"offset":0.28,"color":"#6495ED"},
        {"offset":0.28,"color":"#000"},{"offset":0.2866,"color":"#000"},{"offset":0.2866,"color":"#6495ED"},{"offset":0.3,"color":"#6495ED"},
        {"offset":0.3,"color":"#000"},{"offset":0.3066,"color":"#000"},{"offset":0.3066,"color":"#6495ED"},{"offset":0.32,"color":"#6495ED"},
        {"offset":0.32,"color":"#000"},{"offset":0.3266,"color":"#000"},{"offset":0.3266,"color":"#6495ED"},{"offset":0.34,"color":"#6495ED"},
        {"offset":0.34,"color":"#000"},{"offset":0.3466,"color":"#000"},{"offset":0.3466,"color":"#6495ED"},{"offset":0.36,"color":"#6495ED"},
        {"offset":0.36,"color":"#000"},{"offset":0.3666,"color":"#000"},{"offset":0.3666,"color":"#6495ED"},{"offset":0.38,"color":"#6495ED"},
        {"offset":0.38,"color":"#000"},{"offset":0.3866,"color":"#000"},{"offset":0.3866,"color":"#6495ED"},{"offset":0.4,"color":"#6495ED"},
        {"offset":0.4,"color":"#000"},{"offset":0.4066,"color":"#000"},{"offset":0.4066,"color":"#6495ED"},{"offset":0.42,"color":"#6495ED"},
        {"offset":0.42,"color":"#000"},{"offset":0.4266,"color":"#000"},{"offset":0.4266,"color":"#6495ED"},{"offset":0.44,"color":"#6495ED"},
        {"offset":0.44,"color":"#000"},{"offset":0.4466,"color":"#000"},{"offset":0.4466,"color":"#6495ED"},{"offset":0.46,"color":"#6495ED"},
        {"offset":0.46,"color":"#000"},{"offset":0.4666,"color":"#000"},{"offset":0.4666,"color":"#6495ED"},{"offset":0.48,"color":"#6495ED"},
        {"offset":0.48,"color":"#000"},{"offset":0.4866,"color":"#000"},{"offset":0.4866,"color":"#6495ED"},{"offset":0.5,"color":"#6495ED"},
        {"offset":0.5,"color":"#000"},{"offset":0.5066,"color":"#000"},{"offset":0.5066,"color":"#6495ED"},{"offset":0.52,"color":"#6495ED"},
        {"offset":0.52,"color":"#000"},{"offset":0.5266,"color":"#000"},{"offset":0.5266,"color":"#6495ED"},{"offset":0.54,"color":"#6495ED"},
        {"offset":0.54,"color":"#000"},{"offset":0.5466,"color":"#000"},{"offset":0.5466,"color":"#6495ED"},{"offset":0.56,"color":"#6495ED"},
        {"offset":0.56,"color":"#000"},{"offset":0.5666,"color":"#000"},{"offset":0.5666,"color":"#6495ED"},{"offset":0.58,"color":"#6495ED"},
        {"offset":0.58,"color":"#000"},{"offset":0.5866,"color":"#000"},{"offset":0.5866,"color":"#6495ED"},{"offset":0.6,"color":"#6495ED"},
        {"offset":0.6,"color":"#000"},{"offset":0.6066,"color":"#000"},{"offset":0.6066,"color":"#6495ED"},{"offset":0.62,"color":"#6495ED"},
        {"offset":0.62,"color":"#000"},{"offset":0.6266,"color":"#000"},{"offset":0.6266,"color":"#6495ED"},{"offset":0.64,"color":"#6495ED"},
        {"offset":0.64,"color":"#000"},{"offset":0.6466,"color":"#000"},{"offset":0.6466,"color":"#6495ED"},{"offset":0.66,"color":"#6495ED"},
        {"offset":0.66,"color":"#000"},{"offset":0.6666,"color":"#000"},{"offset":0.6666,"color":"#6495ED"},{"offset":0.68,"color":"#6495ED"},
        {"offset":0.68,"color":"#000"},{"offset":0.6866,"color":"#000"},{"offset":0.6866,"color":"#6495ED"},{"offset":0.7,"color":"#6495ED"},
        {"offset":0.7,"color":"#000"},{"offset":0.7066,"color":"#000"},{"offset":0.7066,"color":"#6495ED"},{"offset":0.72,"color":"#6495ED"},
        {"offset":0.72,"color":"#000"},{"offset":0.7266,"color":"#000"},{"offset":0.7266,"color":"#6495ED"},{"offset":1,"color":"#6495ED"}
      ]}},
      "encoding": {
        "x": {"field": "x", "type": "quantitative", "scale": {"domain": [-0.0385, 2.8949], "nice": false, "zero": false}, "axis": null},
        "y": {"field": "lo", "type": "quantitative", "scale": {"type": "log", "domain": [0.0001, 2.409], "nice": false}, "axis": null},
        "y2": {"field": "hi"}
      }
    },
    {
      "data": {"name": "blue_band"},
      "mark": {"type": "area", "clip": true, "fill": {"gradient": "linear", "x1": 0, "y1": 1, "x2": 0.6268, "y2": -0.6958, "stops": [
        {"offset":0,"color":"#000"},{"offset":0.0066,"color":"#000"},{"offset":0.0066,"color":"transparent"},{"offset":0.02,"color":"transparent"},
        {"offset":0.02,"color":"#000"},{"offset":0.0266,"color":"#000"},{"offset":0.0266,"color":"transparent"},{"offset":0.04,"color":"transparent"},
        {"offset":0.04,"color":"#000"},{"offset":0.0466,"color":"#000"},{"offset":0.0466,"color":"transparent"},{"offset":0.06,"color":"transparent"},
        {"offset":0.06,"color":"#000"},{"offset":0.0666,"color":"#000"},{"offset":0.0666,"color":"transparent"},{"offset":0.08,"color":"transparent"},
        {"offset":0.08,"color":"#000"},{"offset":0.0866,"color":"#000"},{"offset":0.0866,"color":"transparent"},{"offset":0.1,"color":"transparent"},
        {"offset":0.1,"color":"#000"},{"offset":0.1066,"color":"#000"},{"offset":0.1066,"color":"transparent"},{"offset":0.12,"color":"transparent"},
        {"offset":0.12,"color":"#000"},{"offset":0.1266,"color":"#000"},{"offset":0.1266,"color":"transparent"},{"offset":0.14,"color":"transparent"},
        {"offset":0.14,"color":"#000"},{"offset":0.1466,"color":"#000"},{"offset":0.1466,"color":"transparent"},{"offset":0.16,"color":"transparent"},
        {"offset":0.16,"color":"#000"},{"offset":0.1666,"color":"#000"},{"offset":0.1666,"color":"transparent"},{"offset":0.18,"color":"transparent"},
        {"offset":0.18,"color":"#000"},{"offset":0.1866,"color":"#000"},{"offset":0.1866,"color":"transparent"},{"offset":0.2,"color":"transparent"},
        {"offset":0.2,"color":"#000"},{"offset":0.2066,"color":"#000"},{"offset":0.2066,"color":"transparent"},{"offset":0.22,"color":"transparent"},
        {"offset":0.22,"color":"#000"},{"offset":0.2266,"color":"#000"},{"offset":0.2266,"color":"transparent"},{"offset":0.24,"color":"transparent"},
        {"offset":0.24,"color":"#000"},{"offset":0.2466,"color":"#000"},{"offset":0.2466,"color":"transparent"},{"offset":0.26,"color":"transparent"},
        {"offset":0.26,"color":"#000"},{"offset":0.2666,"color":"#000"},{"offset":0.2666,"color":"transparent"},{"offset":0.28,"color":"transparent"},
        {"offset":0.28,"color":"#000"},{"offset":0.2866,"color":"#000"},{"offset":0.2866,"color":"transparent"},{"offset":0.3,"color":"transparent"},
        {"offset":0.3,"color":"#000"},{"offset":0.3066,"color":"#000"},{"offset":0.3066,"color":"transparent"},{"offset":0.32,"color":"transparent"},
        {"offset":0.32,"color":"#000"},{"offset":0.3266,"color":"#000"},{"offset":0.3266,"color":"transparent"},{"offset":0.34,"color":"transparent"},
        {"offset":0.34,"color":"#000"},{"offset":0.3466,"color":"#000"},{"offset":0.3466,"color":"transparent"},{"offset":0.36,"color":"transparent"},
        {"offset":0.36,"color":"#000"},{"offset":0.3666,"color":"#000"},{"offset":0.3666,"color":"transparent"},{"offset":0.38,"color":"transparent"},
        {"offset":0.38,"color":"#000"},{"offset":0.3866,"color":"#000"},{"offset":0.3866,"color":"transparent"},{"offset":0.4,"color":"transparent"},
        {"offset":0.4,"color":"#000"},{"offset":0.4066,"color":"#000"},{"offset":0.4066,"color":"transparent"},{"offset":0.42,"color":"transparent"},
        {"offset":0.42,"color":"#000"},{"offset":0.4266,"color":"#000"},{"offset":0.4266,"color":"transparent"},{"offset":0.44,"color":"transparent"},
        {"offset":0.44,"color":"#000"},{"offset":0.4466,"color":"#000"},{"offset":0.4466,"color":"transparent"},{"offset":0.46,"color":"transparent"},
        {"offset":0.46,"color":"#000"},{"offset":0.4666,"color":"#000"},{"offset":0.4666,"color":"transparent"},{"offset":0.48,"color":"transparent"},
        {"offset":0.48,"color":"#000"},{"offset":0.4866,"color":"#000"},{"offset":0.4866,"color":"transparent"},{"offset":0.5,"color":"transparent"},
        {"offset":0.5,"color":"#000"},{"offset":0.5066,"color":"#000"},{"offset":0.5066,"color":"transparent"},{"offset":0.52,"color":"transparent"},
        {"offset":0.52,"color":"#000"},{"offset":0.5266,"color":"#000"},{"offset":0.5266,"color":"transparent"},{"offset":0.54,"color":"transparent"},
        {"offset":0.54,"color":"#000"},{"offset":0.5466,"color":"#000"},{"offset":0.5466,"color":"transparent"},{"offset":0.56,"color":"transparent"},
        {"offset":0.56,"color":"#000"},{"offset":0.5666,"color":"#000"},{"offset":0.5666,"color":"transparent"},{"offset":0.58,"color":"transparent"},
        {"offset":0.58,"color":"#000"},{"offset":0.5866,"color":"#000"},{"offset":0.5866,"color":"transparent"},{"offset":0.6,"color":"transparent"},
        {"offset":0.6,"color":"#000"},{"offset":0.6066,"color":"#000"},{"offset":0.6066,"color":"transparent"},{"offset":0.62,"color":"transparent"},
        {"offset":0.62,"color":"#000"},{"offset":0.6266,"color":"#000"},{"offset":0.6266,"color":"transparent"},{"offset":0.64,"color":"transparent"},
        {"offset":0.64,"color":"#000"},{"offset":0.6466,"color":"#000"},{"offset":0.6466,"color":"transparent"},{"offset":0.66,"color":"transparent"},
        {"offset":0.66,"color":"#000"},{"offset":0.6666,"color":"#000"},{"offset":0.6666,"color":"transparent"},{"offset":0.68,"color":"transparent"},
        {"offset":0.68,"color":"#000"},{"offset":0.6866,"color":"#000"},{"offset":0.6866,"color":"transparent"},{"offset":0.7,"color":"transparent"},
        {"offset":0.7,"color":"#000"},{"offset":0.7066,"color":"#000"},{"offset":0.7066,"color":"transparent"},{"offset":0.72,"color":"transparent"},
        {"offset":0.72,"color":"#000"},{"offset":0.7266,"color":"#000"},{"offset":0.7266,"color":"transparent"},{"offset":1,"color":"transparent"}
      ]}},
      "encoding": {
        "x": {"field": "x", "type": "quantitative", "scale": {"domain": [-0.0385, 2.8949], "nice": false, "zero": false}, "axis": null},
        "y": {"field": "lo", "type": "quantitative", "scale": {"type": "log", "domain": [0.0001, 2.409], "nice": false}, "axis": null},
        "y2": {"field": "hi"}
      }
    },
    {
      "data": {"name": "black_line"},
      "mark": {"type": "line", "color": "black", "strokeWidth": 2.5, "interpolate": "monotone", "clip": true},
      "encoding": {
        "x": {"field": "x", "type": "quantitative", "scale": {"domain": [-0.0385, 2.8949], "nice": false, "zero": false},
          "axis": {"orient": "bottom", "values": [0.1,0.2,0.3,0.4,0.6,0.7,0.8,0.9,1.1,1.2,1.3,1.4,1.6,1.7,1.8,1.9,2.1,2.2,2.3,2.4,2.6,2.7,2.8], "tickSize": -9, "tickWidth": 3, "domain": false, "labels": false, "title": null}},
        "y": {"field": "y", "type": "quantitative", "scale": {"type": "log", "domain": [0.0001, 2.409], "nice": false},
          "axis": {"orient": "left", "values": [0.0005, 0.005, 0.05, 0.5], "tickSize": -18, "tickWidth": 4, "domain": false, "labels": false, "title": null}}
      }
    },
    {
      "data": {"name": "blue_line"},
      "mark": {"type": "line", "color": "#6495ED", "strokeWidth": 3, "strokeDash": [9, 4], "interpolate": "monotone", "clip": true},
      "encoding": {
        "x": {"field": "x", "type": "quantitative", "scale": {"domain": [-0.0385, 2.8949], "nice": false, "zero": false}, "axis": null},
        "y": {"field": "y", "type": "quantitative", "scale": {"type": "log", "domain": [0.0001, 2.409], "nice": false}, "axis": null}
      }
    },
    {
      "data": {"name": "red_line"},
      "mark": {"type": "line", "color": "#CC0000", "strokeWidth": 3, "strokeDash": [9, 6], "interpolate": "monotone", "clip": true},
      "encoding": {
        "x": {"field": "x", "type": "quantitative", "scale": {"domain": [-0.0385, 2.8949], "nice": false, "zero": false}, "axis": null},
        "y": {"field": "y", "type": "quantitative", "scale": {"type": "log", "domain": [0.0001, 2.409], "nice": false}, "axis": null}
      }
    },
    {
      "data": {"name": "red_band"},
      "mark": {"type": "area", "clip": true, "fill": {"gradient": "linear", "x1": 0, "y1": 0, "x2": 0.6589, "y2": 1.3608, "stops": [
        {"offset":0,"color":"#fff"},{"offset":0.0066,"color":"#fff"},{"offset":0.0066,"color":"#c00"},{"offset":0.02,"color":"#c00"},
        {"offset":0.02,"color":"#fff"},{"offset":0.0266,"color":"#fff"},{"offset":0.0266,"color":"#c00"},{"offset":0.04,"color":"#c00"},
        {"offset":0.04,"color":"#fff"},{"offset":0.0466,"color":"#fff"},{"offset":0.0466,"color":"#c00"},{"offset":0.06,"color":"#c00"},
        {"offset":0.06,"color":"#fff"},{"offset":0.0666,"color":"#fff"},{"offset":0.0666,"color":"#c00"},{"offset":0.08,"color":"#c00"},
        {"offset":0.08,"color":"#fff"},{"offset":0.0866,"color":"#fff"},{"offset":0.0866,"color":"#c00"},{"offset":0.1,"color":"#c00"},
        {"offset":0.1,"color":"#fff"},{"offset":0.1066,"color":"#fff"},{"offset":0.1066,"color":"#c00"},{"offset":0.12,"color":"#c00"},
        {"offset":0.12,"color":"#fff"},{"offset":0.1266,"color":"#fff"},{"offset":0.1266,"color":"#c00"},{"offset":0.14,"color":"#c00"},
        {"offset":0.14,"color":"#fff"},{"offset":0.1466,"color":"#fff"},{"offset":0.1466,"color":"#c00"},{"offset":0.16,"color":"#c00"},
        {"offset":0.16,"color":"#fff"},{"offset":0.1666,"color":"#fff"},{"offset":0.1666,"color":"#c00"},{"offset":0.18,"color":"#c00"},
        {"offset":0.18,"color":"#fff"},{"offset":0.1866,"color":"#fff"},{"offset":0.1866,"color":"#c00"},{"offset":0.2,"color":"#c00"},
        {"offset":0.2,"color":"#fff"},{"offset":0.2066,"color":"#fff"},{"offset":0.2066,"color":"#c00"},{"offset":0.22,"color":"#c00"},
        {"offset":0.22,"color":"#fff"},{"offset":0.2266,"color":"#fff"},{"offset":0.2266,"color":"#c00"},{"offset":0.24,"color":"#c00"},
        {"offset":0.24,"color":"#fff"},{"offset":0.2466,"color":"#fff"},{"offset":0.2466,"color":"#c00"},{"offset":0.26,"color":"#c00"},
        {"offset":0.26,"color":"#fff"},{"offset":0.2666,"color":"#fff"},{"offset":0.2666,"color":"#c00"},{"offset":0.28,"color":"#c00"},
        {"offset":0.28,"color":"#fff"},{"offset":0.2866,"color":"#fff"},{"offset":0.2866,"color":"#c00"},{"offset":0.3,"color":"#c00"},
        {"offset":0.3,"color":"#fff"},{"offset":0.3066,"color":"#fff"},{"offset":0.3066,"color":"#c00"},{"offset":0.32,"color":"#c00"},
        {"offset":0.32,"color":"#fff"},{"offset":0.3266,"color":"#fff"},{"offset":0.3266,"color":"#c00"},{"offset":0.34,"color":"#c00"},
        {"offset":0.34,"color":"#fff"},{"offset":0.3466,"color":"#fff"},{"offset":0.3466,"color":"#c00"},{"offset":0.36,"color":"#c00"},
        {"offset":0.36,"color":"#fff"},{"offset":0.3666,"color":"#fff"},{"offset":0.3666,"color":"#c00"},{"offset":0.38,"color":"#c00"},
        {"offset":0.38,"color":"#fff"},{"offset":0.3866,"color":"#fff"},{"offset":0.3866,"color":"#c00"},{"offset":0.4,"color":"#c00"},
        {"offset":0.4,"color":"#fff"},{"offset":0.4066,"color":"#fff"},{"offset":0.4066,"color":"#c00"},{"offset":0.42,"color":"#c00"},
        {"offset":0.42,"color":"#fff"},{"offset":0.4266,"color":"#fff"},{"offset":0.4266,"color":"#c00"},{"offset":0.44,"color":"#c00"},
        {"offset":0.44,"color":"#fff"},{"offset":0.4466,"color":"#fff"},{"offset":0.4466,"color":"#c00"},{"offset":0.46,"color":"#c00"},
        {"offset":0.46,"color":"#fff"},{"offset":0.4666,"color":"#fff"},{"offset":0.4666,"color":"#c00"},{"offset":0.48,"color":"#c00"},
        {"offset":0.48,"color":"#fff"},{"offset":0.4866,"color":"#fff"},{"offset":0.4866,"color":"#c00"},{"offset":0.5,"color":"#c00"},
        {"offset":0.5,"color":"#fff"},{"offset":0.5066,"color":"#fff"},{"offset":0.5066,"color":"#c00"},{"offset":0.52,"color":"#c00"},
        {"offset":0.52,"color":"#fff"},{"offset":0.5266,"color":"#fff"},{"offset":0.5266,"color":"#c00"},{"offset":0.54,"color":"#c00"},
        {"offset":0.54,"color":"#fff"},{"offset":0.5466,"color":"#fff"},{"offset":0.5466,"color":"#c00"},{"offset":0.56,"color":"#c00"},
        {"offset":0.56,"color":"#fff"},{"offset":0.5666,"color":"#fff"},{"offset":0.5666,"color":"#c00"},{"offset":0.58,"color":"#c00"},
        {"offset":0.58,"color":"#fff"},{"offset":0.5866,"color":"#fff"},{"offset":0.5866,"color":"#c00"},{"offset":0.6,"color":"#c00"},
        {"offset":0.6,"color":"#fff"},{"offset":0.6066,"color":"#fff"},{"offset":0.6066,"color":"#c00"},{"offset":0.62,"color":"#c00"},
        {"offset":0.62,"color":"#fff"},{"offset":0.6266,"color":"#fff"},{"offset":0.6266,"color":"#c00"},{"offset":0.64,"color":"#c00"},
        {"offset":0.64,"color":"#fff"},{"offset":0.6466,"color":"#fff"},{"offset":0.6466,"color":"#c00"},{"offset":0.66,"color":"#c00"},
        {"offset":0.66,"color":"#fff"},{"offset":0.6666,"color":"#fff"},{"offset":0.6666,"color":"#c00"},{"offset":0.68,"color":"#c00"},
        {"offset":0.68,"color":"#fff"},{"offset":0.6866,"color":"#fff"},{"offset":0.6866,"color":"#c00"},{"offset":0.7,"color":"#c00"},
        {"offset":0.7,"color":"#fff"},{"offset":0.7066,"color":"#fff"},{"offset":0.7066,"color":"#c00"},{"offset":0.72,"color":"#c00"},
        {"offset":0.72,"color":"#fff"},{"offset":0.7266,"color":"#fff"},{"offset":0.7266,"color":"#c00"},{"offset":0.74,"color":"#c00"},
        {"offset":0.74,"color":"#fff"},{"offset":0.7466,"color":"#fff"},{"offset":0.7466,"color":"#c00"},{"offset":0.76,"color":"#c00"},
        {"offset":0.76,"color":"#fff"},{"offset":0.7666,"color":"#fff"},{"offset":0.7666,"color":"#c00"},{"offset":0.78,"color":"#c00"},
        {"offset":0.78,"color":"#fff"},{"offset":0.7866,"color":"#fff"},{"offset":0.7866,"color":"#c00"},{"offset":0.8,"color":"#c00"},
        {"offset":0.8,"color":"#fff"},{"offset":0.8066,"color":"#fff"},{"offset":0.8066,"color":"#c00"},{"offset":0.82,"color":"#c00"},
        {"offset":0.82,"color":"#fff"},{"offset":0.8266,"color":"#fff"},{"offset":0.8266,"color":"#c00"},{"offset":0.84,"color":"#c00"},
        {"offset":0.84,"color":"#fff"},{"offset":0.8466,"color":"#fff"},{"offset":0.8466,"color":"#c00"},{"offset":0.86,"color":"#c00"},
        {"offset":0.86,"color":"#fff"},{"offset":0.8666,"color":"#fff"},{"offset":0.8666,"color":"#c00"},{"offset":0.88,"color":"#c00"},
        {"offset":0.88,"color":"#fff"},{"offset":0.8866,"color":"#fff"},{"offset":0.8866,"color":"#c00"},{"offset":1,"color":"#c00"}
      ]}},
      "encoding": {
        "x": {"field": "x", "type": "quantitative", "scale": {"domain": [-0.0385, 2.8949], "nice": false, "zero": false}, "axis": null},
        "y": {"field": "lo", "type": "quantitative", "scale": {"type": "log", "domain": [0.0001, 2.409], "nice": false}, "axis": null},
        "y2": {"field": "hi"}
      }
    },
    {
      "data": {"name": "red_band"},
      "mark": {"type": "area", "clip": true, "fill": {"gradient": "linear", "x1": 0, "y1": 1, "x2": 0.6589, "y2": -0.3608, "stops": [
        {"offset":0,"color":"#fff"},{"offset":0.0066,"color":"#fff"},{"offset":0.0066,"color":"transparent"},{"offset":0.02,"color":"transparent"},
        {"offset":0.02,"color":"#fff"},{"offset":0.0266,"color":"#fff"},{"offset":0.0266,"color":"transparent"},{"offset":0.04,"color":"transparent"},
        {"offset":0.04,"color":"#fff"},{"offset":0.0466,"color":"#fff"},{"offset":0.0466,"color":"transparent"},{"offset":0.06,"color":"transparent"},
        {"offset":0.06,"color":"#fff"},{"offset":0.0666,"color":"#fff"},{"offset":0.0666,"color":"transparent"},{"offset":0.08,"color":"transparent"},
        {"offset":0.08,"color":"#fff"},{"offset":0.0866,"color":"#fff"},{"offset":0.0866,"color":"transparent"},{"offset":0.1,"color":"transparent"},
        {"offset":0.1,"color":"#fff"},{"offset":0.1066,"color":"#fff"},{"offset":0.1066,"color":"transparent"},{"offset":0.12,"color":"transparent"},
        {"offset":0.12,"color":"#fff"},{"offset":0.1266,"color":"#fff"},{"offset":0.1266,"color":"transparent"},{"offset":0.14,"color":"transparent"},
        {"offset":0.14,"color":"#fff"},{"offset":0.1466,"color":"#fff"},{"offset":0.1466,"color":"transparent"},{"offset":0.16,"color":"transparent"},
        {"offset":0.16,"color":"#fff"},{"offset":0.1666,"color":"#fff"},{"offset":0.1666,"color":"transparent"},{"offset":0.18,"color":"transparent"},
        {"offset":0.18,"color":"#fff"},{"offset":0.1866,"color":"#fff"},{"offset":0.1866,"color":"transparent"},{"offset":0.2,"color":"transparent"},
        {"offset":0.2,"color":"#fff"},{"offset":0.2066,"color":"#fff"},{"offset":0.2066,"color":"transparent"},{"offset":0.22,"color":"transparent"},
        {"offset":0.22,"color":"#fff"},{"offset":0.2266,"color":"#fff"},{"offset":0.2266,"color":"transparent"},{"offset":0.24,"color":"transparent"},
        {"offset":0.24,"color":"#fff"},{"offset":0.2466,"color":"#fff"},{"offset":0.2466,"color":"transparent"},{"offset":0.26,"color":"transparent"},
        {"offset":0.26,"color":"#fff"},{"offset":0.2666,"color":"#fff"},{"offset":0.2666,"color":"transparent"},{"offset":0.28,"color":"transparent"},
        {"offset":0.28,"color":"#fff"},{"offset":0.2866,"color":"#fff"},{"offset":0.2866,"color":"transparent"},{"offset":0.3,"color":"transparent"},
        {"offset":0.3,"color":"#fff"},{"offset":0.3066,"color":"#fff"},{"offset":0.3066,"color":"transparent"},{"offset":0.32,"color":"transparent"},
        {"offset":0.32,"color":"#fff"},{"offset":0.3266,"color":"#fff"},{"offset":0.3266,"color":"transparent"},{"offset":0.34,"color":"transparent"},
        {"offset":0.34,"color":"#fff"},{"offset":0.3466,"color":"#fff"},{"offset":0.3466,"color":"transparent"},{"offset":0.36,"color":"transparent"},
        {"offset":0.36,"color":"#fff"},{"offset":0.3666,"color":"#fff"},{"offset":0.3666,"color":"transparent"},{"offset":0.38,"color":"transparent"},
        {"offset":0.38,"color":"#fff"},{"offset":0.3866,"color":"#fff"},{"offset":0.3866,"color":"transparent"},{"offset":0.4,"color":"transparent"},
        {"offset":0.4,"color":"#fff"},{"offset":0.4066,"color":"#fff"},{"offset":0.4066,"color":"transparent"},{"offset":0.42,"color":"transparent"},
        {"offset":0.42,"color":"#fff"},{"offset":0.4266,"color":"#fff"},{"offset":0.4266,"color":"transparent"},{"offset":0.44,"color":"transparent"},
        {"offset":0.44,"color":"#fff"},{"offset":0.4466,"color":"#fff"},{"offset":0.4466,"color":"transparent"},{"offset":0.46,"color":"transparent"},
        {"offset":0.46,"color":"#fff"},{"offset":0.4666,"color":"#fff"},{"offset":0.4666,"color":"transparent"},{"offset":0.48,"color":"transparent"},
        {"offset":0.48,"color":"#fff"},{"offset":0.4866,"color":"#fff"},{"offset":0.4866,"color":"transparent"},{"offset":0.5,"color":"transparent"},
        {"offset":0.5,"color":"#fff"},{"offset":0.5066,"color":"#fff"},{"offset":0.5066,"color":"transparent"},{"offset":0.52,"color":"transparent"},
        {"offset":0.52,"color":"#fff"},{"offset":0.5266,"color":"#fff"},{"offset":0.5266,"color":"transparent"},{"offset":0.54,"color":"transparent"},
        {"offset":0.54,"color":"#fff"},{"offset":0.5466,"color":"#fff"},{"offset":0.5466,"color":"transparent"},{"offset":0.56,"color":"transparent"},
        {"offset":0.56,"color":"#fff"},{"offset":0.5666,"color":"#fff"},{"offset":0.5666,"color":"transparent"},{"offset":0.58,"color":"transparent"},
        {"offset":0.58,"color":"#fff"},{"offset":0.5866,"color":"#fff"},{"offset":0.5866,"color":"transparent"},{"offset":0.6,"color":"transparent"},
        {"offset":0.6,"color":"#fff"},{"offset":0.6066,"color":"#fff"},{"offset":0.6066,"color":"transparent"},{"offset":0.62,"color":"transparent"},
        {"offset":0.62,"color":"#fff"},{"offset":0.6266,"color":"#fff"},{"offset":0.6266,"color":"transparent"},{"offset":0.64,"color":"transparent"},
        {"offset":0.64,"color":"#fff"},{"offset":0.6466,"color":"#fff"},{"offset":0.6466,"color":"transparent"},{"offset":0.66,"color":"transparent"},
        {"offset":0.66,"color":"#fff"},{"offset":0.6666,"color":"#fff"},{"offset":0.6666,"color":"transparent"},{"offset":0.68,"color":"transparent"},
        {"offset":0.68,"color":"#fff"},{"offset":0.6866,"color":"#fff"},{"offset":0.6866,"color":"transparent"},{"offset":0.7,"color":"transparent"},
        {"offset":0.7,"color":"#fff"},{"offset":0.7066,"color":"#fff"},{"offset":0.7066,"color":"transparent"},{"offset":0.72,"color":"transparent"},
        {"offset":0.72,"color":"#fff"},{"offset":0.7266,"color":"#fff"},{"offset":0.7266,"color":"transparent"},{"offset":0.74,"color":"transparent"},
        {"offset":0.74,"color":"#fff"},{"offset":0.7466,"color":"#fff"},{"offset":0.7466,"color":"transparent"},{"offset":0.76,"color":"transparent"},
        {"offset":0.76,"color":"#fff"},{"offset":0.7666,"color":"#fff"},{"offset":0.7666,"color":"transparent"},{"offset":0.78,"color":"transparent"},
        {"offset":0.78,"color":"#fff"},{"offset":0.7866,"color":"#fff"},{"offset":0.7866,"color":"transparent"},{"offset":0.8,"color":"transparent"},
        {"offset":0.8,"color":"#fff"},{"offset":0.8066,"color":"#fff"},{"offset":0.8066,"color":"transparent"},{"offset":0.82,"color":"transparent"},
        {"offset":0.82,"color":"#fff"},{"offset":0.8266,"color":"#fff"},{"offset":0.8266,"color":"transparent"},{"offset":0.84,"color":"transparent"},
        {"offset":0.84,"color":"#fff"},{"offset":0.8466,"color":"#fff"},{"offset":0.8466,"color":"transparent"},{"offset":0.86,"color":"transparent"},
        {"offset":0.86,"color":"#fff"},{"offset":0.8666,"color":"#fff"},{"offset":0.8666,"color":"transparent"},{"offset":0.88,"color":"transparent"},
        {"offset":0.88,"color":"#fff"},{"offset":0.8866,"color":"#fff"},{"offset":0.8866,"color":"transparent"},{"offset":1,"color":"transparent"}
      ]}},
      "encoding": {
        "x": {"field": "x", "type": "quantitative", "scale": {"domain": [-0.0385, 2.8949], "nice": false, "zero": false}, "axis": null},
        "y": {"field": "lo", "type": "quantitative", "scale": {"type": "log", "domain": [0.0001, 2.409], "nice": false}, "axis": null},
        "y2": {"field": "hi"}
      }
    },
    {
      "data": {"name": "red_spike"},
      "mark": {"type": "line", "color": "#CC0000", "strokeWidth": 2, "strokeDash": [6, 5], "clip": true},
      "encoding": {
        "x": {"field": "x", "type": "quantitative", "scale": {"domain": [-0.0385, 2.8949], "nice": false, "zero": false}, "axis": null},
        "y": {"field": "y", "type": "quantitative", "scale": {"type": "log", "domain": [0.0001, 2.409], "nice": false}, "axis": null}
      }
    },
    {
      "data": {"name": "legend_box"},
      "mark": {"type": "rect", "color": "black", "cornerRadius": 4},
      "encoding": {
        "x": {"field": "x", "type": "quantitative", "scale": {"domain": [-0.0385, 2.8949], "nice": false, "zero": false}, "axis": null},
        "x2": {"field": "x2"},
        "y": {"field": "y", "type": "quantitative", "scale": {"type": "log", "domain": [0.0001, 2.409], "nice": false}, "axis": null},
        "y2": {"field": "y2"}
      }
    },
    {
      "data": {"name": "texts"},
      "mark": {"type": "text", "align": "left", "baseline": "alphabetic", "fontSize": 46, "font": "Liberation Sans", "color": "black"},
      "encoding": {
        "x": {"field": "x", "type": "quantitative", "scale": {"domain": [-0.0385, 2.8949], "nice": false, "zero": false}, "axis": null},
        "y": {"field": "y", "type": "quantitative", "scale": {"type": "log", "domain": [0.0001, 2.409], "nice": false}, "axis": null},
        "text": {"field": "t", "type": "nominal"}
      }
    },
    {
      "data": {"name": "subs"},
      "mark": {"type": "text", "align": "left", "baseline": "alphabetic", "fontSize": 31, "font": "Liberation Sans", "color": "black"},
      "encoding": {
        "x": {"field": "x", "type": "quantitative", "scale": {"domain": [-0.0385, 2.8949], "nice": false, "zero": false}, "axis": null},
        "y": {"field": "y", "type": "quantitative", "scale": {"type": "log", "domain": [0.0001, 2.409], "nice": false}, "axis": null},
        "text": {"field": "t", "type": "nominal"}
      }
    }
  ]
}
